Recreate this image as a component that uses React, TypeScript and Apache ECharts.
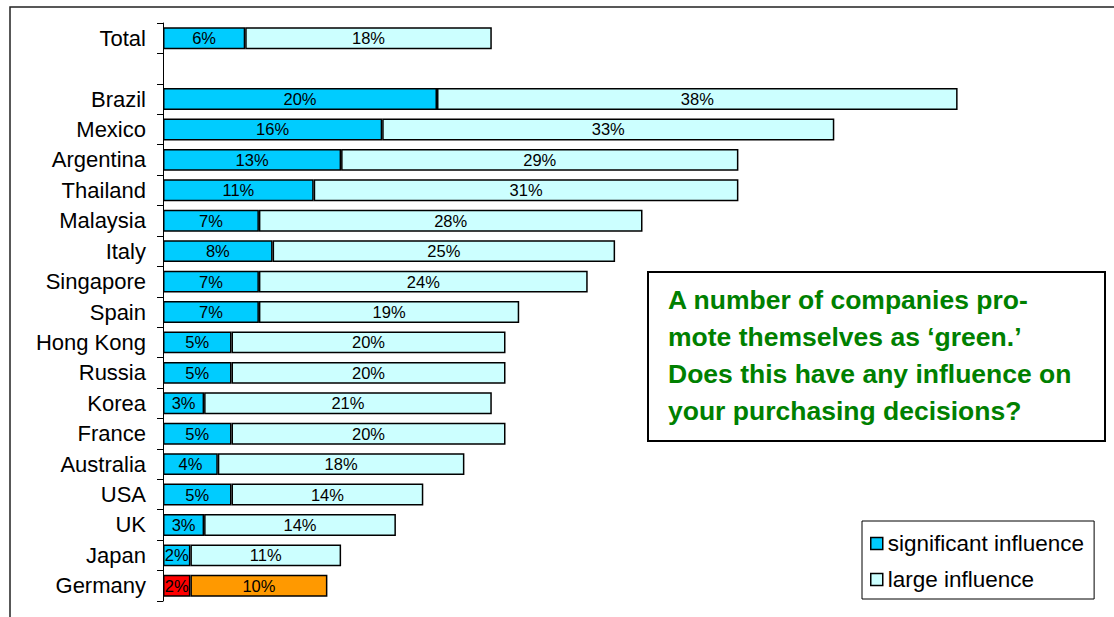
import React, { useEffect, useRef } from "react";
import * as echarts from "echarts";

const categories = [
  "Total", "", "Brazil", "Mexico", "Argentina", "Thailand", "Malaysia", "Italy",
  "Singapore", "Spain", "Hong Kong", "Russia", "Korea", "France", "Australia",
  "USA", "UK", "Japan", "Germany",
];
const significant = [6, null, 20, 16, 13, 11, 7, 8, 7, 7, 5, 5, 3, 5, 4, 5, 3, 2, 2];
const large = [18, null, 38, 33, 29, 31, 28, 25, 24, 19, 20, 20, 21, 20, 18, 14, 14, 11, 10];
const highlightCategory = "Germany";
const questionLines = [
  "A number of companies pro-",
  "mote themselves as \u2018green.\u2019",
  "Does this have any influence on",
  "your purchasing decisions?",
];

export default function App() {
  const ref = useRef<HTMLDivElement>(null);
  useEffect(() => {
    if (!ref.current) return;
    const chart = echarts.init(ref.current, null, { renderer: "svg" });
    const font = "'Liberation Sans', Arial, sans-serif";
    const mk = (vals: (number | null)[], hl: string) =>
      vals.map((v, i) =>
        categories[i] === highlightCategory
          ? { value: v, itemStyle: { color: hl } }
          : { value: v }
      );
    const barLabel = {
      show: true,
      position: "inside" as const,
      formatter: (p: any) => (p.value == null ? "" : p.value + "%"),
      color: "#000",
      fontSize: 16.5,
      fontFamily: font,
    };
    chart.setOption({
      animation: false,
      backgroundColor: "#fff",
      grid: { left: 163, top: 23, height: 578, width: 822 },
      xAxis: { type: "value", min: 0, max: 60, show: false },
      yAxis: {
        type: "category",
        data: categories,
        inverse: true,
        axisLine: { show: true, lineStyle: { color: "#000", width: 1 } },
        axisTick: { show: true, length: 6, lineStyle: { color: "#000" } },
        axisLabel: { color: "#000", fontSize: 22, fontFamily: font, margin: 17 },
      },
      legend: {
        orient: "vertical",
        left: 862,
        top: 521,
        padding: [11, 10, 8, 8],
        itemGap: 13,
        itemWidth: 12,
        itemHeight: 12,
        borderColor: "#000",
        borderWidth: 1,
        icon: "rect",
        itemStyle: { borderColor: "#000", borderWidth: 1.5 },
        textStyle: { color: "#000", fontSize: 22.5, fontFamily: font, lineHeight: 22 },
        data: ["significant influence", "large influence"],
      },
      series: [
        {
          name: "significant influence",
          type: "bar",
          stack: "s",
          barWidth: "72%",
          itemStyle: { color: "#00CCFF", borderColor: "#000", borderWidth: 1.5 },
          label: barLabel,
          data: mk(significant, "#FF0000"),
        },
        {
          name: "large influence",
          type: "bar",
          stack: "s",
          barWidth: "72%",
          itemStyle: { color: "#CCFFFF", borderColor: "#000", borderWidth: 1.5 },
          label: barLabel,
          data: mk(large, "#FF9900"),
        },
      ],
      graphic: [
        {
          type: "rect",
          shape: { x: 10, y: 7, width: 1300, height: 800 },
          style: { fill: "none", stroke: "#222", lineWidth: 1.5 },
          silent: true,
        },
        {
          type: "rect",
          shape: { x: 648, y: 272, width: 457, height: 169 },
          style: { fill: "#fff", stroke: "#000", lineWidth: 2 },
        },
        ...questionLines.map((t, i) => ({
          type: "text",
          x: 668,
          y: 300 + i * 37,
          style: {
            text: t,
            fill: "#008000",
            font: `bold 26.5px ${font}`,
            textVerticalAlign: "middle",
          },
        })),
      ],
    });
    return () => chart.dispose();
  }, []);
  return (
    <div
      ref={ref}
      style={{ position: "fixed", left: 0, top: 0, width: 1114, height: 617 }}
    />
  );
}
